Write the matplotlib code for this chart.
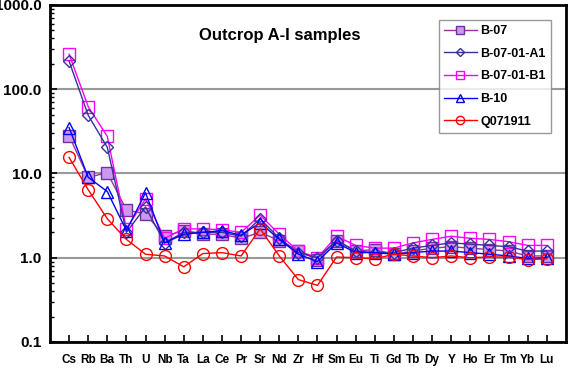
import matplotlib
matplotlib.use("Agg")
import matplotlib.pyplot as plt
from matplotlib.ticker import FixedLocator, LogLocator, NullFormatter

plt.rcParams['font.family'] = ['Liberation Sans', 'DejaVu Sans']

elements = ['Cs', 'Rb', 'Ba', 'Th', 'U', 'Nb', 'Ta', 'La', 'Ce', 'Pr', 'Sr', 'Nd', 'Zr',
            'Hf', 'Sm', 'Eu', 'Ti', 'Gd', 'Tb', 'Dy', 'Y', 'Ho', 'Er', 'Tm', 'Yb', 'Lu']

b07 = [28, 9.0, 10.2, 3.7, 3.3, 1.8, 2.1, 1.9, 1.9, 1.7, 2.0, 1.6, 1.2,
       0.95, 1.6, 1.2, 1.25, 1.1, 1.2, 1.3, 1.35, 1.3, 1.25, 1.2, 1.05, 1.05]
b07_a1 = [215, 49, 20.4, 2.0, 4.0, 1.5, 2.0, 2.0, 2.0, 1.8, 2.9, 1.7, 1.15,
          1.0, 1.6, 1.2, 1.15, 1.15, 1.3, 1.4, 1.5, 1.45, 1.4, 1.35, 1.2, 1.2]
b07_b1 = [260, 62, 27.5, 2.2, 5.0, 1.7, 2.2, 2.2, 2.15, 2.0, 3.2, 1.9, 1.2,
          1.0, 1.8, 1.4, 1.3, 1.3, 1.5, 1.65, 1.8, 1.7, 1.65, 1.55, 1.4, 1.4]
b10 = [35, 9.0, 6.1, 2.1, 5.9, 1.5, 1.9, 2.0, 2.1, 1.85, 2.6, 1.65, 1.1,
       0.9, 1.5, 1.15, 1.15, 1.1, 1.15, 1.2, 1.2, 1.15, 1.1, 1.05, 0.98, 1.0]
q071911 = [15.5, 6.4, 2.9, 1.65, 1.1, 1.05, 0.78, 1.12, 1.15, 1.05, 2.2, 1.05, 0.55,
           0.47, 1.02, 1.0, 0.97, 1.1, 1.05, 1.0, 1.05, 1.0, 1.02, 1.02, 0.95, 0.97]

x = list(range(1, len(elements) + 1))

fig = plt.figure(figsize=(5.7, 3.7), dpi=100)
ax = fig.add_axes([0.0877, 0.0757, 0.905, 0.911])

ms = 8.5
ax.plot(x, b07, color='#993399', marker='s', ms=ms, mfc='#CC99EE', mec='#7030A0',
        mew=1.0, lw=1.0, label='B-07', zorder=3)
ax.plot(x, b07_a1, color='#333399', marker='D', ms=6.5, mfc='none', mec='#333399',
        mew=1.0, lw=1.0, label='B-07-01-A1', zorder=4)
ax.plot(x, b07_b1, color='#FF00FF', marker='s', ms=ms, mfc='none', mec='#FF00FF',
        mew=1.0, lw=1.0, label='B-07-01-B1', zorder=3)
ax.plot(x, b10, color='#0000FF', marker='^', ms=ms, mfc='none', mec='#0000FF',
        mew=1.0, lw=1.0, label='B-10', zorder=4)
ax.plot(x, q071911, color='#FF0000', marker='o', ms=ms, mfc='none', mec='#FF0000',
        mew=1.0, lw=1.0, label='Q071911', zorder=5)

ax.set_yscale('log')
ax.set_ylim(0.1, 1000)
ax.set_xlim(0, 27)
ax.yaxis.set_major_locator(FixedLocator([0.1, 1, 10, 100, 1000]))
ax.set_yticklabels(['0.1', '1.0', '10.0', '100.0', '1000.0'], fontweight='bold', fontsize=11)
ax.yaxis.set_minor_locator(LogLocator(base=10, subs=range(2, 10)))
ax.yaxis.set_minor_formatter(NullFormatter())
ax.set_xticks(x)
ax.set_xticklabels(elements, fontweight='bold', fontsize=8.5)
ax.tick_params(axis='both', which='major', direction='in', length=5, width=1.2)
ax.tick_params(axis='y', which='minor', direction='in', length=3, width=1)
ax.tick_params(axis='x', pad=9)
ax.tick_params(axis='y', pad=6)

ax.grid(True, axis='y', which='major', color='#999999', lw=1.5)
ax.set_axisbelow(True)
for s in ax.spines.values():
    s.set_linewidth(2)

ax.text(0.445, 0.91, 'Outcrop A-I samples', transform=ax.transAxes, ha='center', va='center',
        fontsize=12, fontweight='bold')

leg = ax.legend(loc='upper right', bbox_to_anchor=(0.971, 0.955), fontsize=9, frameon=True,
                fancybox=False, edgecolor='#808080', handlelength=2.6, borderpad=0.4,
                labelspacing=0.85, handletextpad=0.3, borderaxespad=0, markerscale=0.7)
for t in leg.get_texts():
    t.set_fontweight('bold')
leg.get_frame().set_linewidth(1)

fig.savefig('out.png', dpi=100)
